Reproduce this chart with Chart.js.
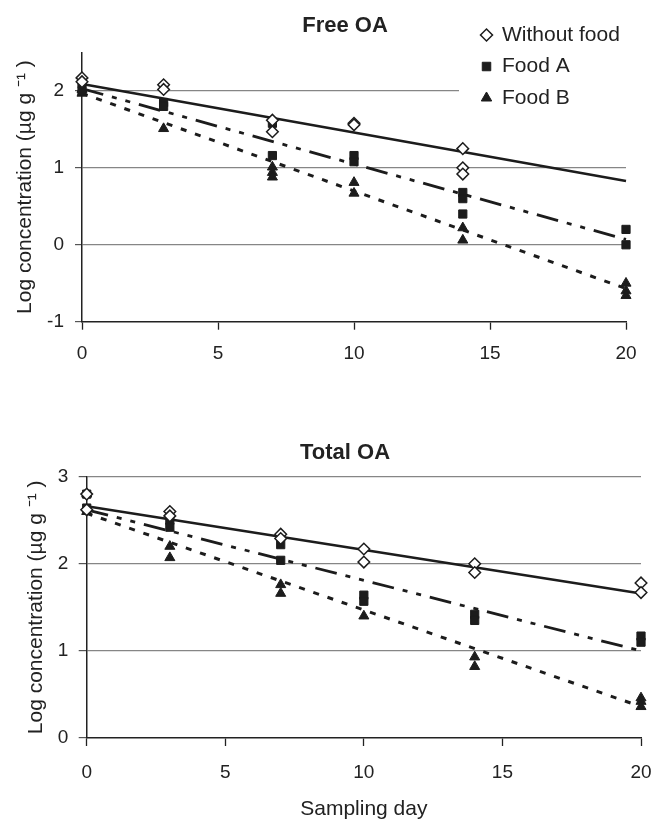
<!DOCTYPE html>
<html><head><meta charset="utf-8">
<script src="https://cdn.jsdelivr.net/npm/chart.js@4.4.1/dist/chart.umd.min.js"></script>
<style>
html,body{margin:0;padding:0;background:#fff;}
#wrap{position:relative;width:655px;height:820px;background:#fff;}
canvas{position:absolute;left:0;}
</style></head>
<body><div id="wrap">
<canvas id="free" width="655" height="400" style="top:0"></canvas>
<canvas id="total" width="655" height="420" style="top:400px"></canvas>
</div>
<script>
// ---------- data ----------
const seriesNames = ['Without food', 'Food A', 'Food B'];
const dayTicks = [0, 5, 10, 15, 20];
const freeTicks = [-1, 0, 1, 2];
const totalTicks = [0, 1, 2, 3];
const fitDays = [0, 20];

// Free OA
const freeWithoutDays = [0, 0, 3, 3, 7, 7, 10, 10, 14, 14, 14];
const freeWithoutLog  = [2.17, 2.12, 2.08, 2.02, 1.62, 1.47, 1.58, 1.56, 1.25, 1.00, 0.92];
const freeFoodADays   = [0, 0, 3, 3, 7, 7, 10, 10, 14, 14, 14, 20, 20];
const freeFoodALog    = [2.10, 2.00, 1.85, 1.80, 1.58, 1.16, 1.16, 1.08, 0.68, 0.60, 0.40, 0.20, 0.00];
const freeFoodBDays   = [0, 0, 3, 7, 7, 7, 10, 10, 14, 14, 20, 20, 20];
const freeFoodBLog    = [2.02, 1.97, 1.51, 1.01, 0.94, 0.88, 0.81, 0.67, 0.22, 0.06, -0.50, -0.60, -0.66];
const freeWithoutFit  = [2.09, 0.83];
const freeFoodAFit    = [2.03, 0.07];
const freeFoodBFit    = [1.97, -0.57];

// Total OA
const totalWithoutDays = [0, 0, 3, 3, 7, 7, 10, 10, 14, 14, 20, 20];
const totalWithoutLog  = [2.80, 2.62, 2.60, 2.55, 2.34, 2.29, 2.17, 2.02, 2.00, 1.90, 1.78, 1.67];
const totalFoodADays   = [0, 0, 3, 3, 7, 7, 10, 10, 14, 14, 20, 20];
const totalFoodALog    = [2.80, 2.64, 2.50, 2.42, 2.22, 2.04, 1.64, 1.57, 1.42, 1.35, 1.17, 1.10];
const totalFoodBDays   = [0, 0, 3, 3, 7, 7, 10, 14, 14, 20, 20, 20];
const totalFoodBLog    = [2.80, 2.60, 2.20, 2.07, 1.76, 1.66, 1.40, 0.93, 0.82, 0.46, 0.42, 0.36];
const totalWithoutFit  = [2.66, 1.66];
const totalFoodAFit    = [2.62, 1.00];
const totalFoodBFit    = [2.58, 0.36];

// ---------- helpers ----------
const FONT = 'Liberation Sans, Arial, sans-serif';
const INK = '#1c1c1c';
const pts = (xs, ys) => xs.map((x, i) => ({x: x, y: ys[i]}));

function markerSets(wd, wl, ad, al, bd, bl) {
  return [
    {label: seriesNames[0], data: pts(wd, wl), pointStyle: 'rectRot', pointRadius: 5.8,
     backgroundColor: '#ffffff', borderColor: INK, borderWidth: 1.5, pointBorderWidth: 1.5, showLine: false},
    {label: seriesNames[1], data: pts(ad, al), pointStyle: 'rect', pointRadius: 5.8,
     backgroundColor: INK, borderColor: INK, borderWidth: 1, showLine: false},
    {label: seriesNames[2], data: pts(bd, bl), pointStyle: 'triangle', pointRadius: 5.8,
     backgroundColor: INK, borderColor: INK, borderWidth: 1, showLine: false}
  ];
}
function fitSets(wf, af, bf) {
  const base = {showLine: true, pointRadius: 0, borderColor: INK, fill: false, borderCapStyle: 'butt'};
  return [
    Object.assign({label: 'fit ' + seriesNames[0], data: pts(fitDays, wf), borderWidth: 2.6}, base),
    Object.assign({label: 'fit ' + seriesNames[1], data: pts(fitDays, af), borderWidth: 2.8, borderDash: [22, 9, 5, 9, 5, 9]}, base),
    Object.assign({label: 'fit ' + seriesNames[2], data: pts(fitDays, bf), borderWidth: 3, borderDash: [6, 9]}, base)
  ];
}

function makeChart(id, cfg) {
  const yTitle = {display: true, text: 'Log concentration (µg g ⁻¹ )', color: '#222',
    font: {family: FONT, size: 21, lineHeight: 1}, padding: {top: cfg.yTitlePad, bottom: 0}};
  const plugins = [{
    id: 'titleShift',
    afterLayout(chart) {
      const t = chart.titleBlock;
      if (t) { t.left = 145; t.right = 545; }
    }
  }];
  if (cfg.legend) {
    plugins.push({
      id: 'legendPlace',
      afterLayout(chart) {
        const lg = chart.legend;
        if (!lg) return;
        lg.left = 471; lg.right = 650; lg.top = 14; lg.bottom = 130;
      },
      beforeDatasetsDraw(chart) {
        const ctx = chart.ctx;
        ctx.save();
        ctx.fillStyle = '#ffffff';
        ctx.fillRect(459, 6, 192, 106);
        ctx.restore();
        chart.legend.draw();
      }
    });
  }
  return new Chart(document.getElementById(id), {
    type: 'scatter',
    data: {datasets: cfg.datasets},
    options: {
      responsive: false, animation: false, events: [],
      layout: {padding: {left: 0, top: 0, bottom: 0, right: cfg.padRight}},
      datasets: {scatter: {clip: false}},
      plugins: {
        tooltip: {enabled: false},
        title: {display: true, text: cfg.title, fullSize: false, color: '#222',
          font: {family: FONT, size: 22, weight: 'bold', lineHeight: 1},
          padding: {top: cfg.titlePadTop, bottom: cfg.titlePadBottom}},
        legend: cfg.legend ? {
          display: true, position: 'chartArea', align: 'start',
          labels: {usePointStyle: true, boxWidth: 10, boxHeight: 8.5, padding: 10.5, color: '#222',
            font: {family: FONT, size: 21}, filter: (item) => item.datasetIndex < 3}
        } : {display: false}
      },
      scales: {
        x: {
          type: 'linear', min: 0, max: 20,
          afterBuildTicks: (s) => { s.ticks = dayTicks.map(v => ({value: v})); },
          afterFit: (s) => { s.height = cfg.xHeight; s.paddingLeft = 0; s.paddingRight = 0; },
          grid: {drawOnChartArea: false, tickLength: 8, tickColor: '#222', tickWidth: 1.3},
          border: {color: '#222', width: 1.5},
          ticks: {color: '#222', font: {family: FONT, size: 19}, padding: cfg.xTickPad, maxRotation: 0},
          title: cfg.xTitle ? {display: true, text: cfg.xTitle, color: '#222',
            font: {family: FONT, size: 21, lineHeight: 1}, padding: {top: 0, bottom: 0.5}} : {display: false}
        },
        y: {
          type: 'linear', min: cfg.yMin, max: cfg.yMax,
          afterBuildTicks: (s) => { s.ticks = cfg.yTicks.map(v => ({value: v})); },
          afterFit: (s) => { s.width = cfg.yWidth; },
          grid: {color: (c) => (c.tick && c.tick.value === cfg.yMin) ? 'rgba(0,0,0,0)' : '#868686',
            lineWidth: 1.2, tickLength: cfg.yTickLen, tickColor: '#555', tickWidth: 1.2},
          border: {color: '#222', width: 1.5},
          ticks: {color: '#222', font: {family: FONT, size: 19}, padding: cfg.yTickPad},
          title: yTitle
        }
      }
    },
    plugins: plugins
  });
}

makeChart('free', {
  title: 'Free OA', titlePadTop: 14.5, titlePadBottom: 16,
  legend: true, padRight: 29, xHeight: 78.3, xTickPad: 13,
  yMin: -1, yMax: 2.5, yTicks: freeTicks, yWidth: 82, yTickLen: 7, yTickPad: 11, yTitlePad: 15,
  datasets: markerSets(freeWithoutDays, freeWithoutLog, freeFoodADays, freeFoodALog, freeFoodBDays, freeFoodBLog)
    .concat(fitSets(freeWithoutFit, freeFoodAFit, freeFoodBFit))
});

makeChart('total', {
  title: 'Total OA', titlePadTop: 42, titlePadBottom: 12.7,
  legend: false, padRight: 14, xHeight: 82, xTickPad: 15, xTitle: 'Sampling day',
  yMin: 0, yMax: 3, yTicks: totalTicks, yWidth: 86.7, yTickLen: 8, yTickPad: 10.5, yTitlePad: 25.5,
  datasets: markerSets(totalWithoutDays, totalWithoutLog, totalFoodADays, totalFoodALog, totalFoodBDays, totalFoodBLog)
    .concat(fitSets(totalWithoutFit, totalFoodAFit, totalFoodBFit))
});
</script>
</body></html>
